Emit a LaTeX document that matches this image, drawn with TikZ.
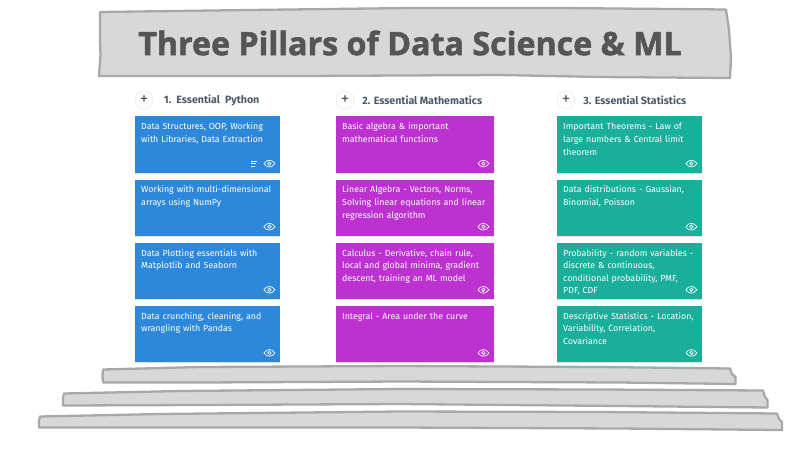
\documentclass[tikz,border=0pt]{standalone}
\usepackage{fontspec}
\setmainfont{Fira Sans}
\newfontfamily\titlefont[BoldFeatures={FakeBold=1.6}]{Open Sans}
\usetikzlibrary{positioning,shadows}
\definecolor{pyblue}{HTML}{2D88DB}
\definecolor{mathpurple}{HTML}{BC31D0}
\definecolor{statteal}{HTML}{1AAF9B}
\definecolor{slabfill}{HTML}{D8D8D8}
\definecolor{slabline}{HTML}{A8A8A8}
\definecolor{titlegray}{HTML}{555555}
\definecolor{headslate}{HTML}{4A5A6B}
\newcommand{\cardtxt}[1]{\parbox[t][44.5pt][t]{\linewidth}{\vspace{-1.4pt}\strut#1}}
\tikzset{
cardbox/.style={rectangle,minimum height=56.5pt,inner xsep=6pt,inner ysep=6pt,align=left,text=white,
    font=\fontsize{8.85}{12.6}\selectfont,drop shadow={opacity=.25,shadow xshift=0pt,shadow yshift=-.8pt}},
pycard/.style={cardbox,fill=pyblue,text width=133pt},
mathcard/.style={cardbox,fill=mathpurple,text width=146pt},
statcard/.style={cardbox,fill=statteal,text width=133pt},
addbtn/.style={circle,draw=black!10,fill=white,minimum size=18pt,inner sep=0pt,text=headslate,
    font=\fontsize{17}{17}\selectfont},
headtext/.style={inner sep=0pt,text=headslate,font=\bfseries\fontsize{10.6}{12}\selectfont},
slab/.style={draw=slabline,fill=slabfill,line width=2.3pt,line join=round},
eyeicon/.pic={
    \draw[white,line width=.7pt] (-5.5,0) .. controls (-2.5,-4.5) and (2.5,-4.5) .. (5.5,0)
        .. controls (2.5,4.5) and (-2.5,4.5) .. (-5.5,0);
    \draw[white,line width=.7pt] (0,0) circle (1.7pt);
},
listicon/.pic={
    \draw[white,line width=.8pt] (-3,-2.5) -- (3,-2.5) (-3,0) -- (2,0) (-3,2.5) -- (1,2.5);
}
}

\begin{document}
\begin{tikzpicture}[x=1pt,y=-1pt]
\useasboundingbox (0,0) rectangle (801,448);
% banner and title
\path[slab] (100,12) -- (250,10) -- (410,8) -- (560,8) -- (726,9.5) -- (729,30) -- (731,58) -- (730,78)
    -- (600,77) -- (500,75) -- (300,76) -- (99,76) -- (100.5,55) -- (100,40) -- cycle;
\node (title) at (410,43) [text=titlegray,font=\titlefont\bfseries\fontsize{32.2}{36}\selectfont] {Three Pillars of Data Science \& ML};
% the three columns of cards
\matrix (cards) at (135,116) [anchor=north west,inner sep=0pt,row sep=6.4pt] {
\node (py1) [pycard] {\cardtxt{Data Structures, OOP, Working\\with Libraries, Data Extraction}};
&[56pt]
\node (math1) [mathcard] {\cardtxt{Basic algebra \& important\\mathematical functions}};
&[63pt]
\node (stat1) [statcard] {\cardtxt{Important Theorems - Law of\\large numbers \& Central limit\\theorem}};
\\
\node (py2) [pycard] {\cardtxt{Working with multi-dimensional\\arrays using NumPy}};
&
\node (math2) [mathcard] {\cardtxt{Linear Algebra - Vectors, Norms,\\Solving linear equations and linear\\regression algorithm}};
&
\node (stat2) [statcard] {\cardtxt{Data distributions - Gaussian,\\Binomial, Poisson}};
\\
\node (py3) [pycard] {\cardtxt{Data Plotting essentials with\\Matplotlib and Seaborn}};
&
\node (math3) [mathcard] {\cardtxt{Calculus - Derivative, chain rule,\\local and global minima, gradient\\descent, training an ML model}};
&
\node (stat3) [statcard] {\cardtxt{Probability - random variables -\\discrete \& continuous,\\conditional probability, PMF,\\PDF, CDF}};
\\
\node (py4) [pycard] {\cardtxt{Data crunching, cleaning, and\\wrangling with Pandas}};
&
\node (math4) [mathcard] {\cardtxt{Integral - Area under the curve}};
&
\node (stat4) [statcard] {\cardtxt{Descriptive Statistics - Location,\\Variability, Correlation,\\Covariance}};
\\
};
% column heads
\node (addpy) [addbtn,above=7pt of py1.north west,anchor=south,xshift=9pt] {+};
\node (headpy) [headtext,right=10.5pt of addpy] {1.\ \ Essential\ \ Python};
\node (addmath) [addbtn,above=7pt of math1.north west,anchor=south,xshift=9pt] {+};
\node (headmath) [headtext,right=8pt of addmath] {2. Essential Mathematics};
\node (addstat) [addbtn,above=7pt of stat1.north west,anchor=south,xshift=9pt] {+};
\node (headstat) [headtext,right=8pt of addstat] {3. Essential Statistics};
% eye icons
\foreach \card in {py1,py2,py3,py4,math1,math2,math3,math4,stat1,stat2,stat3,stat4}
    \pic at ([xshift=-11pt,yshift=9.5pt]\card.south east) {eyeicon};
\pic at ([xshift=-26.5pt,yshift=9.5pt]py1.south east) {listicon};
% steps under the pillars
\path[slab] (103,369.5) -- (200,367) -- (400,366) -- (600,367) -- (730,368.5) -- (732,374) -- (735.5,377) -- (735.5,384)
    -- (620,382.5) -- (400,381.5) -- (200,382.5) -- (103,382.5) -- (102.5,376) -- cycle;
\path[slab] (64,393.5) -- (180,391) -- (400,389) -- (600,389.5) -- (763,390.5) -- (765,397) -- (767.5,400) -- (767.5,407.5)
    -- (620,406) -- (400,404) -- (200,405) -- (63,405.5) -- (63,398) -- cycle;
\path[slab] (40,416.5) -- (160,414) -- (400,411.5) -- (600,412) -- (777,413.5) -- (779,419) -- (782,422) -- (782,430)
    -- (620,428.5) -- (400,427.5) -- (200,427.5) -- (39,427.5) -- (39,421) -- cycle;
\end{tikzpicture}
\end{document}
